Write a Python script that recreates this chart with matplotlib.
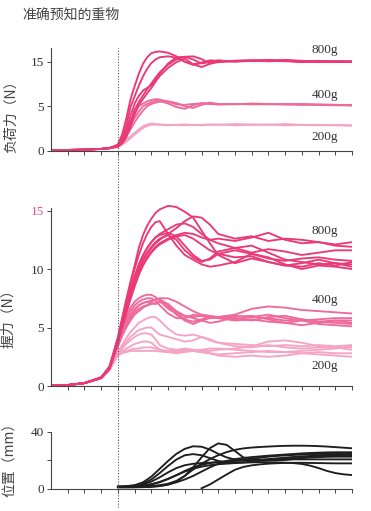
import numpy as np
import matplotlib
matplotlib.use("Agg")
import matplotlib.pyplot as plt
from matplotlib.lines import Line2D
from matplotlib.transforms import blended_transform_factory

plt.rcParams['font.family'] = ['Noto Sans CJK SC', 'DejaVu Sans']

# ---- datos ----
titulo = "准确预知的重物"
etiquetas = ["800g", "400g", "200g"]

# eje x comun para las fuerzas
x_f = [0, 1, 2, 3, 3.5, 4, 4.25, 4.5, 4.75, 5, 5.25, 5.5, 5.75, 6, 6.25, 6.5,
       7, 7.5, 8, 8.5, 9, 9.5, 10, 11, 12, 13, 14, 15, 16, 17, 18]

# fuerza de carga (N)
carga_800 = [
    [0.05, 0.08, 0.12, 0.2, 0.3, 0.7, 1.8, 3.6, 6.5, 9.5, 12.3, 14.5, 16.0, 16.9, 17.2, 17.3, 17.0, 16.2, 15.0, 14.4, 14.8, 15.1, 15.0, 15.2, 15.3, 15.1, 15.4, 15.2, 15.0, 15.1, 15.0],
    [0.05, 0.08, 0.12, 0.2, 0.3, 0.6, 1.4, 2.8, 4.9, 7.2, 9.6, 11.7, 13.4, 14.7, 15.5, 16.0, 16.2, 15.9, 15.0, 14.3, 14.7, 15.3, 15.2, 15.1, 15.2, 15.3, 15.3, 15.1, 15.0, 15.0, 14.9],
    [0.05, 0.08, 0.12, 0.2, 0.3, 0.55, 1.1, 2.3, 3.9, 5.6, 7.3, 8.5, 9.1, 9.7, 10.9, 12.3, 14.6, 16.0, 16.1, 15.5, 14.6, 14.9, 15.3, 15.0, 15.2, 15.4, 15.2, 14.9, 15.1, 15.0, 15.1],
    [0.05, 0.08, 0.12, 0.2, 0.28, 0.5, 0.9, 1.8, 3.1, 4.6, 5.9, 7.4, 8.8, 10.1, 11.4, 12.6, 14.3, 15.5, 16.1, 16.2, 15.6, 14.6, 14.9, 15.1, 15.2, 15.3, 15.1, 15.0, 15.2, 14.9, 15.0],
    [0.05, 0.08, 0.12, 0.2, 0.28, 0.45, 0.8, 1.5, 2.7, 4.1, 5.3, 6.6, 7.9, 9.1, 10.5, 11.8, 13.6, 14.9, 15.7, 14.4, 13.8, 14.5, 15.1, 15.2, 15.3, 15.1, 15.2, 15.0, 14.9, 15.1, 15.0],
]
carga_400 = [
    [0.05, 0.08, 0.12, 0.2, 0.3, 0.6, 1.3, 2.3, 3.3, 4.2, 5.0, 5.6, 6.1, 6.4, 6.6, 6.5, 6.0, 5.4, 5.3, 5.5, 5.6, 5.5, 5.4, 5.5, 5.5, 5.4, 5.5, 5.4, 5.3, 5.3, 5.2],
    [0.05, 0.08, 0.12, 0.2, 0.3, 0.5, 1.1, 2.0, 2.9, 3.7, 4.4, 5.0, 5.5, 5.9, 6.2, 6.2, 5.6, 4.9, 4.7, 5.2, 5.7, 5.6, 5.4, 5.5, 5.4, 5.5, 5.4, 5.3, 5.4, 5.3, 5.2],
    [0.05, 0.08, 0.12, 0.2, 0.28, 0.45, 0.9, 1.6, 2.4, 3.2, 3.9, 4.5, 5.0, 5.5, 5.8, 6.0, 6.1, 5.7, 5.0, 4.8, 5.3, 5.8, 5.5, 5.4, 5.6, 5.5, 5.4, 5.5, 5.3, 5.2, 5.2],
]
carga_200 = [
    [0.05, 0.08, 0.12, 0.2, 0.28, 0.45, 0.8, 1.2, 1.6, 2.0, 2.4, 2.75, 2.95, 3.05, 3.0, 2.95, 2.9, 2.9, 2.95, 2.9, 2.9, 2.95, 2.9, 3.0, 2.95, 2.9, 3.0, 2.9, 2.85, 2.9, 2.85],
    [0.05, 0.08, 0.12, 0.2, 0.28, 0.4, 0.7, 1.0, 1.4, 1.8, 2.2, 2.55, 2.8, 2.9, 2.95, 2.9, 2.85, 2.9, 2.85, 2.9, 2.85, 2.9, 2.95, 2.85, 2.9, 2.95, 2.85, 2.9, 2.9, 2.85, 2.8],
]

# fuerza de agarre (N)
agarre_800 = [
    [0.02, 0.08, 0.25, 0.75, 1.7, 4.2, 5.8, 7.4, 8.9, 10.3, 11.8, 12.9, 13.7, 14.3, 14.8, 15.1, 15.4, 15.3, 14.9, 14.4, 13.3, 12.2, 11.2, 10.5, 10.9, 10.6, 10.3, 10.5, 10.8, 10.5, 10.4],
    [0.02, 0.08, 0.25, 0.75, 1.6, 4.0, 5.6, 7.2, 8.7, 10.0, 11.2, 12.2, 13.0, 13.6, 14.0, 14.1, 13.0, 12.0, 11.2, 10.8, 10.4, 10.2, 10.3, 10.6, 11.3, 11.0, 10.4, 10.0, 10.3, 10.2, 10.0],
    [0.02, 0.08, 0.25, 0.7, 1.5, 3.8, 5.2, 6.6, 7.9, 9.0, 9.9, 10.7, 11.3, 11.8, 12.2, 12.5, 13.0, 13.5, 14.1, 14.5, 14.4, 13.8, 13.0, 12.6, 12.8, 12.4, 12.6, 12.5, 12.3, 12.1, 12.3],
    [0.02, 0.08, 0.25, 0.7, 1.5, 3.9, 5.4, 6.9, 8.2, 9.4, 10.4, 11.2, 11.8, 12.3, 12.7, 13.0, 13.4, 13.8, 13.9, 13.6, 13.0, 12.5, 12.2, 11.8, 11.4, 11.7, 11.5, 11.2, 11.4, 11.6, 11.6],
    [0.02, 0.08, 0.25, 0.7, 1.5, 3.9, 5.3, 6.8, 8.1, 9.3, 10.3, 11.1, 11.8, 12.3, 12.7, 12.9, 13.1, 12.8, 12.0, 11.2, 10.7, 10.8, 11.3, 11.6, 11.3, 10.9, 10.7, 10.9, 11.0, 10.8, 10.7],
    [0.02, 0.08, 0.25, 0.7, 1.5, 3.8, 5.2, 6.6, 7.9, 9.0, 10.0, 10.8, 11.4, 11.9, 12.3, 12.6, 12.9, 12.5, 11.6, 11.0, 10.6, 10.9, 11.5, 11.8, 12.0, 11.4, 10.8, 10.6, 10.4, 10.5, 10.2],
    [0.02, 0.08, 0.25, 0.7, 1.5, 3.8, 5.1, 6.4, 7.6, 8.7, 9.6, 10.4, 11.0, 11.5, 11.9, 12.2, 12.6, 12.9, 13.1, 13.0, 12.7, 12.5, 12.6, 12.4, 12.7, 13.1, 12.5, 12.2, 12.3, 12.0, 11.9],
    [0.02, 0.08, 0.25, 0.7, 1.5, 3.7, 5.0, 6.2, 7.4, 8.5, 9.5, 10.3, 10.9, 11.4, 11.8, 12.1, 12.5, 12.8, 12.9, 12.6, 12.1, 11.6, 11.3, 11.0, 11.1, 10.6, 10.3, 10.2, 10.5, 10.3, 10.6],
]
agarre_400 = [
    [0.02, 0.08, 0.25, 0.7, 1.5, 3.6, 4.8, 5.9, 6.7, 7.2, 7.5, 7.7, 7.8, 7.8, 7.6, 7.3, 6.6, 6.2, 6.0, 5.9, 6.0, 5.8, 5.9, 6.0, 5.9, 6.1, 5.8, 5.6, 5.7, 5.8, 5.8],
    [0.02, 0.08, 0.25, 0.7, 1.5, 3.6, 4.7, 5.7, 6.4, 6.9, 7.2, 7.4, 7.5, 7.5, 7.3, 6.9, 6.2, 5.8, 5.8, 6.1, 6.0, 5.9, 5.8, 5.7, 5.9, 5.8, 5.6, 5.7, 5.5, 5.4, 5.3],
    [0.02, 0.08, 0.25, 0.7, 1.5, 3.5, 4.5, 5.4, 6.1, 6.6, 6.9, 7.1, 7.2, 7.3, 7.4, 7.5, 7.5, 7.2, 6.8, 6.4, 6.1, 6.0, 5.9, 6.1, 6.6, 6.8, 6.7, 6.5, 6.4, 6.3, 6.2],
    [0.02, 0.08, 0.25, 0.7, 1.5, 3.5, 4.4, 5.3, 6.0, 6.5, 6.9, 7.1, 7.2, 7.1, 7.0, 7.2, 7.0, 6.3, 5.7, 5.5, 5.7, 5.9, 5.8, 5.6, 5.7, 5.5, 5.4, 5.6, 5.3, 5.2, 5.1],
    [0.02, 0.08, 0.25, 0.7, 1.5, 3.4, 4.3, 5.1, 5.8, 6.3, 6.6, 6.8, 6.9, 7.0, 7.1, 7.2, 6.8, 6.1, 5.6, 5.3, 5.6, 5.8, 5.9, 5.8, 5.6, 5.9, 6.0, 5.7, 5.5, 5.6, 5.6],
    [0.02, 0.08, 0.25, 0.7, 1.5, 3.4, 4.3, 5.0, 5.6, 6.1, 6.4, 6.7, 6.9, 7.2, 7.4, 7.4, 7.0, 6.4, 6.0, 5.8, 5.6, 5.4, 5.5, 5.9, 6.0, 5.7, 5.4, 5.2, 5.4, 5.6, 5.4],
]
agarre_200 = [
    [0.02, 0.08, 0.25, 0.65, 1.4, 2.9, 3.5, 4.1, 4.6, 5.0, 5.4, 5.6, 5.8, 5.9, 5.9, 5.6, 4.9, 4.4, 4.3, 4.4, 4.2, 3.9, 3.7, 3.6, 3.5, 3.4, 3.5, 3.4, 3.5, 3.4, 3.5],
    [0.02, 0.08, 0.25, 0.65, 1.4, 2.8, 3.3, 3.8, 4.2, 4.5, 4.8, 4.9, 5.0, 5.0, 4.7, 4.4, 4.2, 4.0, 3.8, 3.9, 4.2, 4.0, 3.7, 3.4, 3.3, 3.5, 3.3, 3.2, 3.3, 3.3, 3.3],
    [0.02, 0.08, 0.25, 0.65, 1.4, 2.8, 3.2, 3.6, 3.9, 4.2, 4.4, 4.5, 4.5, 4.4, 4.0, 3.5, 3.2, 3.1, 3.2, 3.1, 3.0, 3.0, 3.1, 3.2, 3.4, 3.8, 3.9, 3.7, 3.4, 3.3, 3.1],
    [0.02, 0.08, 0.25, 0.65, 1.4, 2.7, 3.0, 3.2, 3.4, 3.6, 3.7, 3.8, 3.8, 3.7, 3.4, 3.1, 2.9, 2.8, 2.9, 3.0, 2.9, 2.8, 2.7, 2.8, 2.9, 3.0, 2.9, 2.8, 2.9, 2.8, 2.8],
    [0.02, 0.08, 0.25, 0.65, 1.4, 2.7, 2.9, 3.0, 3.1, 3.2, 3.2, 3.3, 3.3, 3.3, 3.2, 3.1, 3.0, 3.0, 3.1, 3.0, 2.9, 2.8, 2.6, 2.5, 2.6, 2.5, 2.6, 2.8, 2.7, 2.6, 2.5],
    [0.02, 0.08, 0.25, 0.65, 1.4, 2.6, 2.8, 2.9, 3.0, 3.0, 3.0, 3.0, 3.0, 3.0, 3.0, 2.95, 2.9, 2.9, 3.0, 3.0, 3.1, 3.2, 3.2, 3.1, 3.0, 2.9, 2.9, 3.0, 3.1, 3.2, 3.4],
]

# posicion (mm)
x_p = [4, 4.5, 5, 5.5, 6, 6.5, 7, 7.5, 8, 8.5, 9, 9.5, 10, 10.5, 11, 11.5,
       12, 12.5, 13, 13.5, 14, 14.5, 15, 15.5, 16, 16.5, 17, 17.5, 18]
nan = np.nan
posicion = [
    [1.5, 1.8, 2.5, 4.5, 8.5, 14.0, 19.5, 24.5, 28.0, 29.8, 29.5, 27.5, 24.5, 22.0, 20.5, 20.0, 20.0, 20.3, 20.8, 21.3, 21.8, 22.3, 22.7, 23.0, 23.2, 23.3, 23.3, 23.3, 23.3],
    [1.5, 1.7, 2.2, 3.5, 6.5, 11.0, 16.0, 20.5, 23.5, 24.3, 23.5, 21.5, 19.5, 18.5, 18.3, 18.5, 19.0, 19.5, 20.0, 20.3, 20.5, 20.6, 20.6, 20.6, 20.6, 20.6, 20.6, 20.6, 20.6],
    [1.0, 1.0, 1.0, 1.1, 1.3, 1.8, 2.8, 5.0, 9.0, 15.0, 22.0, 28.5, 31.8, 30.8, 26.5, 22.0, 20.8, 20.3, 20.0, 20.0, 20.2, 20.8, 21.6, 22.5, 23.3, 23.9, 24.3, 24.5, 24.5],
    [1.2, 1.2, 1.3, 1.5, 1.9, 2.5, 3.5, 5.5, 9.0, 13.5, 17.5, 20.8, 23.5, 25.7, 27.3, 28.3, 28.9, 29.3, 29.6, 29.9, 30.1, 30.2, 30.2, 30.1, 29.9, 29.6, 29.2, 28.8, 28.4],
    [1.0, 1.0, 1.1, 1.2, 1.5, 2.0, 3.0, 4.5, 6.5, 9.0, 12.0, 15.0, 17.5, 19.5, 20.8, 21.6, 22.2, 22.7, 23.2, 23.6, 24.0, 24.4, 24.8, 25.1, 25.3, 25.5, 25.6, 25.6, 25.6],
    [nan, nan, nan, nan, nan, nan, nan, nan, nan, nan, 0.3, 3.0, 6.5, 10.0, 13.3, 15.3, 16.4, 17.1, 17.6, 17.9, 18.1, 18.2, 18.2, 18.1, 18.0, 17.9, 17.8, 17.8, 17.8],
    [1.2, 1.3, 1.6, 2.2, 3.2, 4.8, 7.0, 9.5, 12.0, 14.0, 15.5, 16.5, 17.2, 17.6, 18.0, 18.3, 18.5, 18.6, 18.6, 18.5, 18.3, 18.0, 17.4, 16.2, 14.5, 12.5, 11.0, 10.1, 9.6],
    [1.3, 1.5, 2.0, 3.0, 5.0, 8.0, 11.5, 14.5, 16.5, 17.5, 18.0, 18.3, 18.6, 19.0, 19.5, 20.2, 21.0, 21.8, 22.5, 23.0, 23.4, 23.7, 24.0, 24.2, 24.4, 24.5, 24.5, 24.5, 24.5],
    [1.2, 1.3, 1.5, 2.0, 3.0, 4.5, 6.8, 9.5, 12.5, 15.0, 16.8, 18.0, 18.8, 19.3, 19.6, 19.8, 20.0, 20.2, 20.4, 20.7, 21.0, 21.3, 21.6, 21.9, 22.2, 22.4, 22.5, 22.5, 22.5],
]

colores = {'800g': '#EA3A76', '400g': '#EE6A9B', '200g': '#F4A5C4'}
num_font = 'Liberation Serif'
lw = 1.35


def fwd(y):
    y = np.asarray(y, dtype=float)
    return np.where(y <= 5, y / 5, 1 + (y - 5) / 10)


def inv(t):
    t = np.asarray(t, dtype=float)
    return np.where(t <= 1, t * 5, 5 + (t - 1) * 10)


def estilo(ax, ticks, labels, ymax, bound=None):
    for s in ['top', 'right']:
        ax.spines[s].set_visible(False)
    for s in ['left', 'bottom']:
        ax.spines[s].set_color('#444444')
        ax.spines[s].set_linewidth(0.8)
    ax.set_xlim(0, 18)
    ax.set_ylim(0, ymax)
    if bound is not None:
        ax.spines['left'].set_bounds(0, bound)
    ax.set_xticks(range(1, 19))
    ax.set_xticklabels([])
    ax.set_yticks(ticks)
    ax.set_yticklabels(labels, family=num_font, fontsize=9.5, color='#333333')
    ax.tick_params(direction='out', length=3, width=0.7, color='#444444', pad=2)


fig = plt.figure(figsize=(3.71, 5.11), dpi=100)

# panel superior: fuerza de carga
ax1 = fig.add_axes([0.1375, 0.7051, 0.8113, 0.2010])
ax1.set_yscale('function', functions=(fwd, inv))
for ys in carga_200:
    ax1.plot(x_f, ys, color=colores['200g'], lw=lw)
for ys in carga_400:
    ax1.plot(x_f, ys, color=colores['400g'], lw=lw)
for ys in carga_800:
    ax1.plot(x_f, ys, color=colores['800g'], lw=lw)
estilo(ax1, [0, 5, 15], ['0', '5', '15'], 18.08)
ax1.set_ylabel("负荷力（N）", fontsize=10, color='#444444')
ax1.yaxis.set_label_coords(-0.11, 0.36)
for lab, yv in zip(etiquetas, [17.6, 7.5, 1.55]):
    ax1.text(15.6, yv, lab, family=num_font, fontsize=9.5, color='#333333', va='center')

# panel central: fuerza de agarre
ax2 = fig.add_axes([0.1375, 0.2446, 0.8113, 0.3571])
for ys in agarre_200:
    ax2.plot(x_f, ys, color=colores['200g'], lw=lw)
for ys in agarre_400:
    ax2.plot(x_f, ys, color=colores['400g'], lw=lw)
for ys in agarre_800:
    ax2.plot(x_f, ys, color=colores['800g'], lw=lw)
estilo(ax2, [0, 5, 10, 15], ['0', '5', '10', '15'], 15.6, bound=15.2)
ax2.get_yticklabels()[-1].set_color('#E8508A')
ax2.set_ylabel("握力（N）", fontsize=10, color='#444444')
ax2.yaxis.set_label_coords(-0.12, 0.39)
for lab, yv in zip(etiquetas, [13.25, 7.35, 1.7]):
    ax2.text(15.6, yv, lab, family=num_font, fontsize=9.5, color='#333333', va='center')

# panel inferior: posicion
ax3 = fig.add_axes([0.1375, 0.0436, 0.8113, 0.1115])
for ys in posicion:
    ax3.plot(x_p, ys, color='#1e1e1e', lw=lw)
estilo(ax3, [0, 20, 40], ['0', '', '40'], 40)
ax3.set_ylabel("位置（mm）", fontsize=10, color='#444444')
ax3.yaxis.set_label_coords(-0.113, 0.57)

# linea punteada del inicio
tr = blended_transform_factory(ax1.transData, fig.transFigure)
fig.add_artist(Line2D([4, 4], [0.008, 0.906], transform=tr, color='#555555',
                      lw=0.8, linestyle=(0, (1, 1.5))))

fig.text(22 / 371, 1 - 15 / 511, titulo, fontsize=10, color='#444444', va='center')

fig.savefig("out.png", dpi=100)
